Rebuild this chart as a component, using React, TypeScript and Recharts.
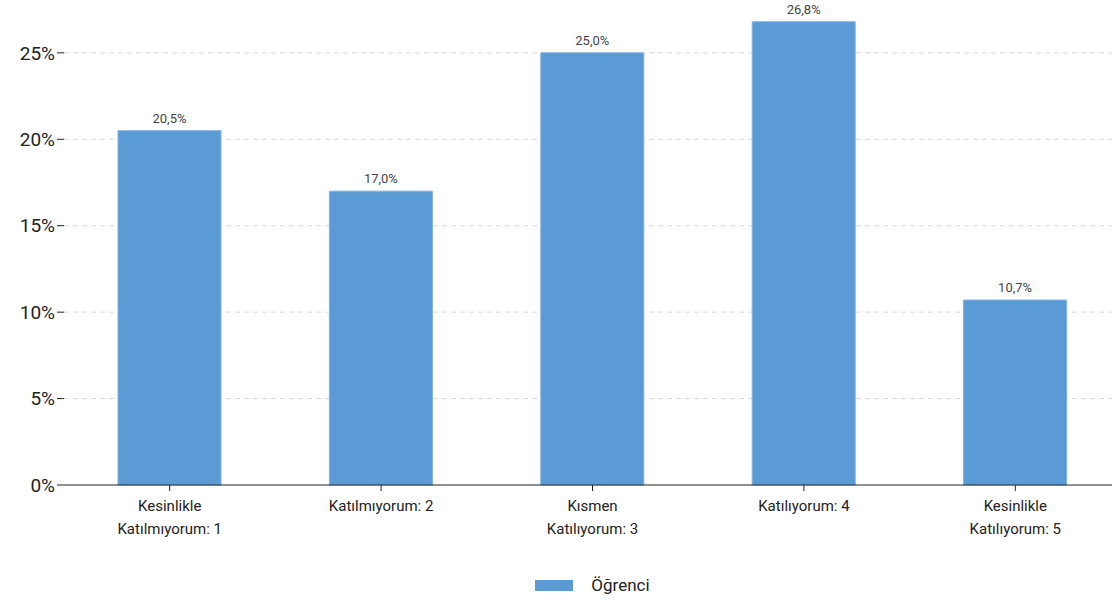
import React from 'react';
import { BarChart, Bar, XAxis, YAxis, CartesianGrid, Legend, LabelList } from 'recharts';

const categories = [
    'Kesinlikle\nKatılmıyorum: 1',
    'Katılmıyorum: 2',
    'Kısmen\nKatılıyorum: 3',
    'Katılıyorum: 4',
    'Kesinlikle\nKatılıyorum: 5'
];
const ogrenci = [20.5, 17.0, 25.0, 26.8, 10.7];
const yTicks = [0, 5, 10, 15, 20, 25];
const gridValues = [5, 10, 15, 20, 25];

const data = categories.map((name, i) => ({ name, value: ogrenci[i] }));

const FONT = 'Roboto, "Noto Sans", sans-serif';
const BAR_COLOR = '#5b9bd5';

const CategoryTick = (props: any) => {
    const { x, y, payload } = props;
    const lines = String(payload.value).split('\n');
    return (
        <g transform={`translate(${x},${y})`}>
            {lines.map((line, i) => (
                <text
                    key={i}
                    x={0}
                    y={18 + i * 23}
                    textAnchor="middle"
                    fontSize={15}
                    fill="#222"
                    fontFamily={FONT}
                >
                    {line}
                </text>
            ))}
        </g>
    );
};

const LegendBox = () => (
    <div
        style={{
            height: 40,
            display: 'flex',
            alignItems: 'center',
            justifyContent: 'center',
            fontFamily: FONT,
            fontSize: 17,
            color: '#222'
        }}
    >
        <span style={{ display: 'inline-block', width: 38, height: 11, background: BAR_COLOR, marginRight: 18 }} />
        Öğrenci
    </div>
);

const App: React.FC = () => {
    return (
        <div style={{ position: 'absolute', left: 0, top: 0, width: 1112, height: 605, overflow: 'hidden', background: '#fff' }}>
            <BarChart
                width={1127}
                height={605}
                data={data}
                margin={{ top: 1, right: 6, left: 2, bottom: 0 }}
                barSize={103}
            >
                <CartesianGrid vertical={false} stroke="#d9d9d9" strokeDasharray="5 4" horizontalValues={gridValues} />
                <XAxis
                    dataKey="name"
                    height={80}
                    interval={0}
                    tick={<CategoryTick />}
                    tickSize={6}
                    axisLine={{ stroke: '#222' }}
                    tickLine={{ stroke: '#222' }}
                />
                <YAxis
                    width={62}
                    domain={[0, 28]}
                    ticks={yTicks}
                    tickFormatter={(v) => `${v}%`}
                    tick={{ fontSize: 19, fill: '#222', fontFamily: FONT }}
                    tickSize={7}
                    axisLine={false}
                    tickLine={{ stroke: '#222' }}
                />
                <Legend
                    verticalAlign="bottom"
                    height={40}
                    content={<LegendBox />}
                    wrapperStyle={{ left: 64, width: 1057 }}
                />
                <Bar dataKey="value" name="Öğrenci" fill={BAR_COLOR} stroke="#7fb0df" strokeWidth={1} isAnimationActive={false}>
                    <LabelList
                        dataKey="value"
                        position="top"
                        offset={8}
                        formatter={(v: any) => `${Number(v).toFixed(1).replace('.', ',')}%`}
                        style={{ fontSize: 13, fill: '#444', fontFamily: FONT }}
                    />
                </Bar>
            </BarChart>
        </div>
    );
};

export default App;
